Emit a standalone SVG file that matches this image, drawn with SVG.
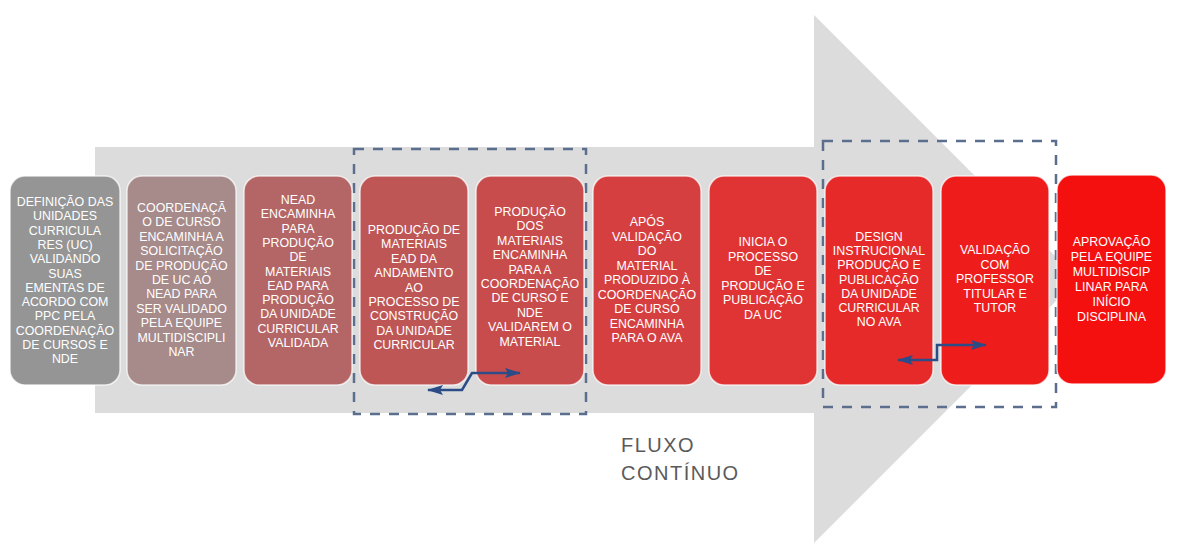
<svg xmlns="http://www.w3.org/2000/svg" width="1186" height="559" viewBox="0 0 1186 559">
  <style>
    .box { stroke: #ffffff; stroke-opacity: 0.7; stroke-width: 1.5; }
    .lbl { font-family: "Liberation Sans", Arial, sans-serif; font-size: 12.4px; fill: #ffffff; text-anchor: middle; }
    .flow { font-family: "Liberation Sans", Arial, sans-serif; font-size: 20px; fill: #5a5a5a; letter-spacing: 1.5px; }
    .dash { fill: none; stroke: #5b6e8e; stroke-width: 2.5; stroke-dasharray: 10 9; }
    .conn { fill: none; stroke: #2b4c86; stroke-width: 2.5; }
  </style>
  <defs>
    <marker id="ah" viewBox="0 0 16 10" refX="15" refY="5" markerWidth="16" markerHeight="10" markerUnits="userSpaceOnUse" orient="auto-start-reverse">
      <path d="M0,0 L16,5 L0,10 L3,5 Z" fill="#2b4c86"/>
    </marker>
  </defs>
  <rect width="1186" height="559" fill="#ffffff"/>

  <g id="big-arrow">
    <polygon points="95,147 814,147 814,15 1078,279 814,543 814,413 95,413" fill="#dcdcdc"/>
  </g>

  <g id="groups">
    <rect class="dash" x="354" y="149" width="232" height="265"/>
    <rect class="dash" x="823" y="141" width="233" height="266"/>
  </g>

  <g id="n1">
    <rect class="box" x="10" y="176" width="110" height="209" rx="15" fill="#959595"/>
    <text class="lbl" y="206">
      <tspan x="65">DEFINIÇÃO DAS</tspan><tspan x="65" dy="14.3">UNIDADES</tspan><tspan x="65" dy="14.3">CURRICULA</tspan><tspan x="65" dy="14.3">RES (UC)</tspan><tspan x="65" dy="14.3">VALIDANDO</tspan><tspan x="65" dy="14.3">SUAS</tspan><tspan x="65" dy="14.3">EMENTAS DE</tspan><tspan x="65" dy="14.3">ACORDO COM</tspan><tspan x="65" dy="14.3">PPC PELA</tspan><tspan x="65" dy="14.3">COORDENAÇÃO</tspan><tspan x="65" dy="14.3">DE CURSOS E</tspan><tspan x="65" dy="14.3">NDE</tspan>
    </text>
  </g>
  <g id="n2">
    <rect class="box" x="127" y="176" width="109" height="209" rx="15" fill="#a78a8a"/>
    <text class="lbl" y="212">
      <tspan x="181.5">COORDENAÇÃ</tspan><tspan x="181.5" dy="14.4">O DE CURSO</tspan><tspan x="181.5" dy="14.4">ENCAMINHA A</tspan><tspan x="181.5" dy="14.4">SOLICITAÇÃO</tspan><tspan x="181.5" dy="14.4">DE PRODUÇÃO</tspan><tspan x="181.5" dy="14.4">DE UC AO</tspan><tspan x="181.5" dy="14.4">NEAD PARA</tspan><tspan x="181.5" dy="14.4">SER VALIDADO</tspan><tspan x="181.5" dy="14.4">PELA EQUIPE</tspan><tspan x="181.5" dy="14.4">MULTIDISCIPLI</tspan><tspan x="181.5" dy="14.4">NAR</tspan>
    </text>
  </g>
  <g id="n3">
    <rect class="box" x="244" y="176" width="108" height="209" rx="15" fill="#b46666"/>
    <text class="lbl" y="204">
      <tspan x="298">NEAD</tspan><tspan x="298" dy="14.3">ENCAMINHA</tspan><tspan x="298" dy="14.3">PARA</tspan><tspan x="298" dy="14.3">PRODUÇÃO</tspan><tspan x="298" dy="14.3">DE</tspan><tspan x="298" dy="14.3">MATERIAIS</tspan><tspan x="298" dy="14.3">EAD PARA</tspan><tspan x="298" dy="14.3">PRODUÇÃO</tspan><tspan x="298" dy="14.3">DA UNIDADE</tspan><tspan x="298" dy="14.3">CURRICULAR</tspan><tspan x="298" dy="14.3">VALIDADA</tspan>
    </text>
  </g>
  <g id="n4">
    <rect class="box" x="360" y="176" width="108" height="209" rx="15" fill="#be5656"/>
    <text class="lbl" y="234">
      <tspan x="414">PRODUÇÃO DE</tspan><tspan x="414" dy="14.4">MATERIAIS</tspan><tspan x="414" dy="14.4">EAD DA</tspan><tspan x="414" dy="14.4">ANDAMENTO</tspan><tspan x="414" dy="14.4">AO</tspan><tspan x="414" dy="14.4">PROCESSO DE</tspan><tspan x="414" dy="14.4">CONSTRUÇÃO</tspan><tspan x="414" dy="14.4">DA UNIDADE</tspan><tspan x="414" dy="14.4">CURRICULAR</tspan>
    </text>
  </g>
  <g id="n5">
    <rect class="box" x="476" y="176" width="108" height="209" rx="15" fill="#c84c4c"/>
    <text class="lbl" y="216">
      <tspan x="530">PRODUÇÃO</tspan><tspan x="530" dy="14.4">DOS</tspan><tspan x="530" dy="14.4">MATERIAIS</tspan><tspan x="530" dy="14.4">ENCAMINHA</tspan><tspan x="530" dy="14.4">PARA A</tspan><tspan x="530" dy="14.4">COORDENAÇÃO</tspan><tspan x="530" dy="14.4">DE CURSO E</tspan><tspan x="530" dy="14.4">NDE</tspan><tspan x="530" dy="14.4">VALIDAREM O</tspan><tspan x="530" dy="14.4">MATERIAL</tspan>
    </text>
  </g>
  <g id="n6">
    <rect class="box" x="593" y="176" width="108" height="209" rx="15" fill="#d63f3f"/>
    <text class="lbl" y="226">
      <tspan x="647">APÓS</tspan><tspan x="647" dy="14.5">VALIDAÇÃO</tspan><tspan x="647" dy="14.5">DO</tspan><tspan x="647" dy="14.5">MATERIAL</tspan><tspan x="647" dy="14.5">PRODUZIDO À</tspan><tspan x="647" dy="14.5">COORDENAÇÃO</tspan><tspan x="647" dy="14.5">DE CURSO</tspan><tspan x="647" dy="14.5">ENCAMINHA</tspan><tspan x="647" dy="14.5">PARA O AVA</tspan>
    </text>
  </g>
  <g id="n7">
    <rect class="box" x="709" y="176" width="108" height="209" rx="15" fill="#e03434"/>
    <text class="lbl" y="246">
      <tspan x="763">INICIA O</tspan><tspan x="763" dy="14.6">PROCESSO</tspan><tspan x="763" dy="14.6">DE</tspan><tspan x="763" dy="14.6">PRODUÇÃO E</tspan><tspan x="763" dy="14.6">PUBLICAÇÃO</tspan><tspan x="763" dy="14.6">DA UC</tspan>
    </text>
  </g>
  <g id="n8">
    <rect class="box" x="825" y="176" width="108" height="209" rx="15" fill="#e62a2a"/>
    <text class="lbl" y="241">
      <tspan x="879">DESIGN</tspan><tspan x="879" dy="14.2">INSTRUCIONAL</tspan><tspan x="879" dy="14.2">PRODUÇÃO E</tspan><tspan x="879" dy="14.2">PUBLICAÇÃO</tspan><tspan x="879" dy="14.2">DA UNIDADE</tspan><tspan x="879" dy="14.2">CURRICULAR</tspan><tspan x="879" dy="14.2">NO AVA</tspan>
    </text>
  </g>
  <g id="n9">
    <rect class="box" x="941" y="176" width="108" height="209" rx="15" fill="#ef1c1c"/>
    <text class="lbl" y="254">
      <tspan x="995">VALIDAÇÃO</tspan><tspan x="995" dy="14.5">COM</tspan><tspan x="995" dy="14.5">PROFESSOR</tspan><tspan x="995" dy="14.5">TITULAR E</tspan><tspan x="995" dy="14.5">TUTOR</tspan>
    </text>
  </g>
  <g id="n10">
    <rect class="box" x="1057" y="175" width="109" height="209" rx="15" fill="#f51010"/>
    <text class="lbl" y="246">
      <tspan x="1111.5">APROVAÇÃO</tspan><tspan x="1111.5" dy="15">PELA EQUIPE</tspan><tspan x="1111.5" dy="15">MULTIDISCIP</tspan><tspan x="1111.5" dy="15">LINAR PARA</tspan><tspan x="1111.5" dy="15">INÍCIO</tspan><tspan x="1111.5" dy="15">DISCIPLINA</tspan>
    </text>
  </g>

  <g id="connectors">
    <path class="conn" d="M428,390 H462 L472,373 H520" marker-start="url(#ah)" marker-end="url(#ah)"/>
    <path class="conn" d="M898,360 H937 V345 H986" marker-start="url(#ah)" marker-end="url(#ah)"/>
  </g>

  <g id="caption">
    <text class="flow" x="621" y="452">FLUXO</text>
    <text class="flow" x="621" y="480">CONTÍNUO</text>
  </g>
</svg>
